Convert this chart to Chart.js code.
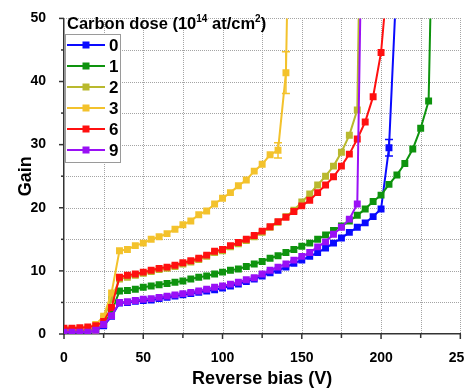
<!DOCTYPE html>
<html><head><meta charset="utf-8">
<script src="https://cdn.jsdelivr.net/npm/chart.js@4/dist/chart.umd.min.js"></script>
<style>html,body{margin:0;padding:0;background:#fff;overflow:hidden}canvas{display:block}</style>
</head><body>
<canvas id="c" width="480" height="391"></canvas>
<script>
// Reverse bias voltage (V), common grid for all series
const bias = [0,5,10,15,20,25,30,35,40,45,50,55,60,65,70,75,80,85,90,95,100,105,110,115,120,125,130,135,140,145,150,155,160,165,170,175,180,185,190,195,200,205,210,215,220,225,230];
const doses = ['0','1','2','3','6','9'];
const colors = ['#0A0AFF','#0E930E','#B9B92E','#F3C22C','#FF1010','#9A10F5'];
// Gain values (one per bias step, starting at 0 V)
const gain0 = [0.3,0.3,0.3,0.3,0.5,1.3,2.8,4.9,5.0,5.2,5.3,5.4,5.6,5.8,6.0,6.2,6.4,6.6,6.8,7.0,7.3,7.6,7.9,8.3,8.7,9.2,9.7,10.1,10.6,11.2,11.7,12.3,12.9,13.6,14.4,15.2,16.1,16.9,17.6,18.6,19.8,29.5];
const gain1 = [0.5,0.5,0.5,0.6,0.8,1.5,3.5,6.8,6.9,7.1,7.4,7.6,7.8,8.0,8.2,8.4,8.7,9.0,9.2,9.5,9.8,10.1,10.3,10.7,11.1,11.5,12.0,12.4,12.9,13.4,13.9,14.4,15.0,15.7,16.4,17.1,17.9,18.8,19.8,21.0,22.0,23.7,25.2,27.0,29.3,32.6,36.9];
const gain2 = [0.7,0.7,0.7,0.8,0.3,2.5,5.5,8.7,9.0,9.3,9.6,9.9,10.2,10.4,10.7,11.1,11.4,11.8,12.3,12.9,13.2,13.8,14.3,14.8,15.4,16.1,16.9,17.7,18.6,19.6,20.9,22.2,23.6,25.0,26.6,28.8,31.5,35.5];
const gain3 = [0.7,0.7,0.8,0.9,1.5,2.8,6.5,13.2,13.4,14.0,14.4,15.0,15.4,15.9,16.6,17.3,17.9,18.9,19.5,20.6,21.5,22.4,23.5,24.4,25.8,26.9,28.4,29.1,41.4];
const gain6 = [0.9,0.9,1.0,1.1,1.3,2.0,4.2,9.0,9.3,9.5,9.8,10.1,10.4,10.6,10.9,11.3,11.6,12.0,12.5,13.1,13.4,14.0,14.5,15.0,15.6,16.3,17.0,17.8,18.5,19.4,20.3,21.2,22.4,23.6,24.9,26.6,28.5,30.9,33.6,37.6,44.6];
const gain9 = [0.3,0.3,0.3,0.3,0.6,1.5,2.9,5.0,5.1,5.3,5.5,5.6,5.8,6.0,6.2,6.4,6.6,6.8,7.1,7.4,7.6,7.9,8.2,8.6,8.9,9.5,10.1,10.6,11.1,11.7,12.3,12.9,13.8,14.6,15.8,16.9,18.2,20.6];
const gains = [gain0, gain1, gain2, gain3, gain6, gain9];
// Breakdown: last measured point beyond the plotted range
const tailBias = [210, 231.5, 186.5, 141.5, 204, 187.5];
const tailGain = [57, 55, 60, 62, 56, 60];
// Error bars (series index, bias, +/- gain)
const errSeries = [3, 3, 0];
const errBias = [135, 140, 205];
const errSize = [1.2, 3.3, 1.3];
// Axis tick labels
const xLabels = [0, 50, 100, 150, 200, 250];
const yLabels = [0, 10, 20, 30, 40, 50];

const FONT = "'Liberation Sans', Arial, sans-serif";
Chart.defaults.font.family = FONT;
Chart.defaults.color = '#000';

const datasets = gains.map((g, i) => {
  const pts = g.map((v, j) => ({x: bias[j], y: v}));
  pts.push({x: tailBias[i], y: tailGain[i]});
  return {
    label: doses[i],
    data: pts,
    showLine: true,
    borderColor: colors[i],
    backgroundColor: colors[i],
    borderWidth: 2,
    pointStyle: 'rect',
    pointRadius: pts.map((p, j) => j === pts.length - 1 ? 0 : 4.9),
    pointBorderWidth: 0,
    order: 5 - i
  };
});

const extras = {
  id: 'extras',
  beforeDatasetsDraw(chart) {
    // dotted grid lines at every tick, drawn as small dots
    const {ctx, chartArea: a, scales: {x, y}} = chart;
    ctx.save();
    ctx.fillStyle = '#a4a4a4';
    x.ticks.forEach(t => {
      if (t.value === 0) return;
      const px = Math.round(x.getPixelForValue(t.value));
      for (let yy = Math.round(a.top); yy < a.bottom; yy += 2) ctx.fillRect(px, yy, 1, 1);
    });
    y.ticks.forEach(t => {
      if (t.value === 0) return;
      const py = Math.round(y.getPixelForValue(t.value));
      for (let xx = Math.round(a.left) + 2; xx < a.right; xx += 2) ctx.fillRect(xx, py, 1, 1);
    });
    ctx.restore();
  },
  afterDatasetsDraw(chart) {
    const {ctx, chartArea: a, scales: {x, y}} = chart;
    ctx.save();
    ctx.beginPath(); ctx.rect(a.left, a.top, a.right - a.left, a.bottom - a.top); ctx.clip();
    // error bars
    errSeries.forEach((s, k) => {
      const i = bias.indexOf(errBias[k]);
      const g = gains[s][i];
      const px = x.getPixelForValue(errBias[k]);
      const y1 = y.getPixelForValue(g + errSize[k]);
      const y2 = y.getPixelForValue(g - errSize[k]);
      ctx.strokeStyle = colors[s]; ctx.lineWidth = 1.5;
      ctx.beginPath();
      ctx.moveTo(px, y1); ctx.lineTo(px, y2);
      ctx.moveTo(px - 4, y1); ctx.lineTo(px + 4, y1);
      ctx.moveTo(px - 4, y2); ctx.lineTo(px + 4, y2);
      ctx.stroke();
    });
    ctx.restore();
  },
  afterDraw(chart) {
    const {ctx, chartArea: a, scales: {x, y}} = chart;
    ctx.save();
    // axis tick marks
    ctx.strokeStyle = '#333'; ctx.lineWidth = 1.5;
    y.ticks.forEach(t => {
      const py = y.getPixelForValue(t.value);
      const len = yLabels.includes(t.value) ? 5 : 3;
      ctx.beginPath(); ctx.moveTo(a.left, py); ctx.lineTo(a.left - len, py); ctx.stroke();
    });
    x.ticks.forEach(t => {
      const px = x.getPixelForValue(t.value);
      const len = xLabels.includes(t.value) ? 5 : 4;
      ctx.beginPath(); ctx.moveTo(px, a.bottom); ctx.lineTo(px, a.bottom + len); ctx.stroke();
    });
    // legend title
    ctx.fillStyle = '#000';
    ctx.textBaseline = 'alphabetic';
    let tx = a.left + 3; const ty = 29;
    const parts = [['Carbon dose (10', 16.5, 0], ['14', 10, -7], [' at/cm', 16.5, 0], ['2', 10, -7], [')', 16.5, 0]];
    parts.forEach(([s, sz, dy]) => {
      ctx.font = `bold ${sz}px ${FONT}`;
      ctx.fillText(s, tx, ty + dy);
      tx += ctx.measureText(s).width;
    });
    // legend box
    const bx = a.left + 1, by = 34, bw = 55, bh = 128;
    ctx.fillStyle = '#fff';
    ctx.fillRect(bx, by, bw, bh);
    ctx.strokeStyle = '#9a9a9a'; ctx.lineWidth = 1;
    ctx.strokeRect(bx + 0.5, by + 0.5, bw, bh);
    doses.forEach((d, i) => {
      const ly = 45 + 21 * i;
      ctx.strokeStyle = colors[i]; ctx.lineWidth = 2;
      ctx.beginPath(); ctx.moveTo(bx + 2, ly); ctx.lineTo(bx + 40, ly); ctx.stroke();
      ctx.fillStyle = colors[i];
      ctx.fillRect(bx + 21 - 3.5, ly - 3.5, 7, 7);
      ctx.fillStyle = '#000';
      ctx.font = `bold 17px ${FONT}`;
      ctx.textBaseline = 'middle';
      ctx.fillText(d, bx + 44, ly + 1);
    });
    ctx.restore();
  }
};

new Chart(document.getElementById('c'), {
  type: 'scatter',
  data: {datasets},
  options: {
    responsive: false,
    animation: false,
    layout: {padding: {top: 14, right: 18, left: 0, bottom: 0}},
    plugins: {legend: {display: false}, tooltip: {enabled: false}},
    scales: {
      x: {
        type: 'linear', min: 0, max: 250,
        afterFit(s) { s.height = 57; },
        ticks: {
          stepSize: 25, autoSkip: false, maxRotation: 0, padding: 8,
          font: {size: 14, weight: 'bold'}, color: '#000',
          callback: v => xLabels.includes(v) ? String(v) : ''
        },
        grid: {display: false},
        border: {display: true, color: '#333', width: 1.5},
        title: {display: true, text: 'Reverse bias (V)', font: {size: 18, weight: 'bold'}, color: '#000', padding: {top: 0, bottom: 1}}
      },
      y: {
        min: 0, max: 50,
        afterFit(s) { s.width = 64; },
        ticks: {
          stepSize: 5, autoSkip: false, padding: 10,
          font: {size: 14, weight: 'bold'}, color: '#000',
          callback: v => yLabels.includes(v) ? String(v) : ''
        },
        grid: {display: false},
        border: {display: true, color: '#333', width: 1.5},
        title: {display: true, text: 'Gain', font: {size: 18, weight: 'bold'}, color: '#000', padding: {top: 15, bottom: 0}}
      }
    }
  },
  plugins: [extras]
});
</script>
</body></html>
